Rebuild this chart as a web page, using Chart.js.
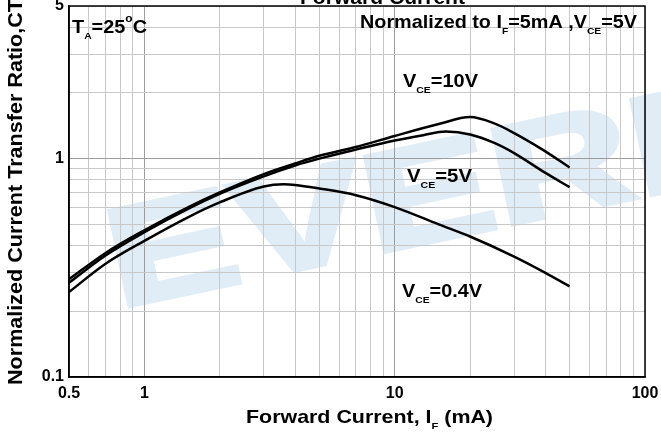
<!DOCTYPE html>
<html>
<head>
<meta charset="utf-8">
<script src="https://cdn.jsdelivr.net/npm/chart.js@4.4.1/dist/chart.umd.min.js"></script>
<style>
html,body{margin:0;padding:0;background:#fff;}
canvas{display:block;}
</style>
</head>
<body>
<canvas id="c" width="661" height="432"></canvas>
<script>
// ---- data ----
const vce10X = [0.5, 0.7, 1, 1.5, 2, 3, 4, 5, 7, 10, 15, 20, 25, 30, 40, 50];
const vce10Y = [0.28, 0.37, 0.47, 0.60, 0.70, 0.85, 0.95, 1.03, 1.13, 1.27, 1.44, 1.55, 1.45, 1.31, 1.08, 0.91];

const vce5X = [0.5, 0.7, 1, 1.5, 2, 3, 4, 5, 7, 10, 13, 16, 20, 25, 30, 40, 50];
const vce5Y = [0.27, 0.36, 0.46, 0.59, 0.69, 0.83, 0.93, 1.00, 1.10, 1.21, 1.28, 1.33, 1.29, 1.18, 1.06, 0.86, 0.74];

const vce04X = [0.5, 0.7, 1, 1.5, 2, 3, 3.6, 4, 5, 7, 10, 15, 20, 30, 40, 50];
const vce04Y = [0.245, 0.33, 0.42, 0.54, 0.63, 0.745, 0.763, 0.758, 0.73, 0.68, 0.60, 0.50, 0.44, 0.356, 0.30, 0.26];

const xGridValues = [0.5,0.6,0.7,0.8,0.9,1,2,3,4,5,6,7,8,9,10,20,30,40,50,60,70,80,90,100];
const xTickLabels = ['0.5','1','10','100'];
const yGridValues = [0.1,0.2,0.3,0.4,0.5,0.6,0.7,0.8,0.9,1,2,3,4,5];
const yTickLabels = ['0.1','1','5'];
const xMajor = [1,10];
const yMajor = [1];

const FONT = '"Liberation Sans", Arial, Helvetica, sans-serif';

function pts(xs, ys){ return xs.map((x,i)=>({x:x, y:ys[i]})); }

function drawRich(ctx, parts, x, y, size, targetWidth){
  const subSize = size*0.52, supSize = size*0.6;
  let w = 0;
  parts.forEach(p=>{
    const s = p.sub ? subSize : (p.sup ? supSize : size);
    ctx.font = 'bold ' + s + 'px ' + FONT;
    p._w = ctx.measureText(p.t).width;
    w += p._w;
  });
  const sx = targetWidth ? targetWidth / w : 1;
  ctx.save();
  ctx.translate(x, y);
  ctx.scale(sx, 1);
  ctx.fillStyle = '#000';
  ctx.textBaseline = 'alphabetic';
  ctx.textAlign = 'left';
  let cx = 0;
  parts.forEach(p=>{
    const s = p.sub ? subSize : (p.sup ? supSize : size);
    ctx.font = 'bold ' + s + 'px ' + FONT;
    const dy = p.sub ? size*0.34 : (p.sup ? -size*0.58 : 0);
    ctx.fillText(p.t, cx, dy);
    cx += p._w;
  });
  ctx.restore();
}

const decor = {
  id: 'decor',
  beforeDraw(chart){
    const ctx = chart.ctx;
    ctx.save();
    ctx.fillStyle = '#fff';
    ctx.fillRect(0,0,chart.width,chart.height);
    // watermark
    ctx.translate(118, 308);
    ctx.rotate(-12*Math.PI/180);
    ctx.scale(1.4, 1);
    ctx.font = 'bold 140px ' + FONT;
    ctx.fillStyle = '#e1edf6';
    ctx.strokeStyle = '#e1edf6';
    ctx.lineWidth = 5;
    ctx.lineJoin = 'miter';
    ctx.textBaseline = 'alphabetic';
    ctx.fillText('EVERLIGHT', 0, 0);
    ctx.strokeText('EVERLIGHT', 0, 0);
    ctx.restore();
  },
  afterDraw(chart){
    const ctx = chart.ctx;
    const a = chart.chartArea;
    ctx.save();
    ctx.strokeStyle = '#000';
    ctx.lineWidth = 1.5;
    ctx.strokeRect(a.left, a.top, a.right - a.left, a.bottom - a.top);
    ctx.restore();

    // title (cut at top)
    drawRich(ctx, [{t:'Forward Current'}], 300, 4, 20, 165);
    // annotations
    drawRich(ctx, [{t:'T'},{t:'A',sub:true},{t:'=25'},{t:'o',sup:true},{t:'C'}], 72, 33, 19, 75);
    drawRich(ctx, [{t:'Normalized to I'},{t:'F',sub:true},{t:'=5mA ,V'},{t:'CE',sub:true},{t:'=5V'}], 360, 28, 19, 277);
    drawRich(ctx, [{t:'V'},{t:'CE',sub:true},{t:'=10V'}], 403, 87, 19, 75);
    drawRich(ctx, [{t:'V'},{t:'CE',sub:true},{t:'=5V'}], 407, 182, 19, 65);
    drawRich(ctx, [{t:'V'},{t:'CE',sub:true},{t:'=0.4V'}], 402, 297, 19, 80);
    // x axis title
    drawRich(ctx, [{t:'Forward Current, I'},{t:'F',sub:true},{t:' (mA)'}], 246, 423, 19, 247);
    // y axis title (rotated)
    ctx.save();
    ctx.translate(22, 385);
    ctx.rotate(-Math.PI/2);
    ctx.font = 'bold 21px ' + FONT;
    const part = 'Normalized Current Transfer Ratio,CT';
    const sx = 386 / ctx.measureText(part).width;
    ctx.scale(sx, 1);
    ctx.fillStyle = '#000';
    ctx.textBaseline = 'alphabetic';
    ctx.fillText('Normalized Current Transfer Ratio,CTR', 0, 0);
    ctx.restore();
  }
};

function lineDs(data){
  return {
    data: data,
    borderColor: '#000',
    borderWidth: 2.5,
    pointRadius: 0,
    fill: false,
    cubicInterpolationMode: 'monotone'
  };
}

new Chart(document.getElementById('c'), {
  type: 'line',
  data: {
    datasets: [
      lineDs(pts(vce10X, vce10Y)),
      lineDs(pts(vce5X, vce5Y)),
      lineDs(pts(vce04X, vce04Y))
    ]
  },
  options: {
    responsive: false,
    animation: false,
    devicePixelRatio: 1,
    layout: { padding: { top: 6, right: 16, left: 0, bottom: 0 } },
    plugins: { legend: { display: false }, tooltip: { enabled: false }, title: { display: false } },
    scales: {
      x: {
        type: 'logarithmic',
        min: 0.5, max: 100,
        afterBuildTicks(scale){ scale.ticks = xGridValues.map(v=>({value:v})); },
        afterFit(scale){ scale.height = 55; scale.paddingLeft = 0; scale.paddingRight = 0; },
        grid: {
          drawTicks: false,
          color: (c)=> (c.tick && xMajor.includes(c.tick.value)) ? '#9c9c9c' : '#c8c8c8',
          lineWidth: 1
        },
        border: { display: true, color: '#000', width: 1.5 },
        ticks: {
          autoSkip: false, maxRotation: 0, minRotation: 0, padding: 7,
          color: '#000',
          font: { family: FONT, size: 16, weight: 'bold' },
          callback: (v)=> { const s = String(v); return xTickLabels.includes(s) ? s : ''; }
        }
      },
      y: {
        type: 'logarithmic',
        min: 0.1, max: 5,
        afterBuildTicks(scale){ scale.ticks = yGridValues.map(v=>({value:v})); },
        afterFit(scale){ scale.width = 69; scale.paddingTop = 0; scale.paddingBottom = 0; },
        grid: {
          drawTicks: false,
          color: (c)=> (c.tick && yMajor.includes(c.tick.value)) ? '#9c9c9c' : '#c8c8c8',
          lineWidth: 1
        },
        border: { display: true, color: '#000', width: 1.5 },
        ticks: {
          autoSkip: false, padding: 5,
          color: '#000',
          font: { family: FONT, size: 16, weight: 'bold' },
          callback: (v)=> { const s = String(v); return yTickLabels.includes(s) ? s : ''; }
        }
      }
    }
  },
  plugins: [decor]
});
</script>
</body>
</html>
